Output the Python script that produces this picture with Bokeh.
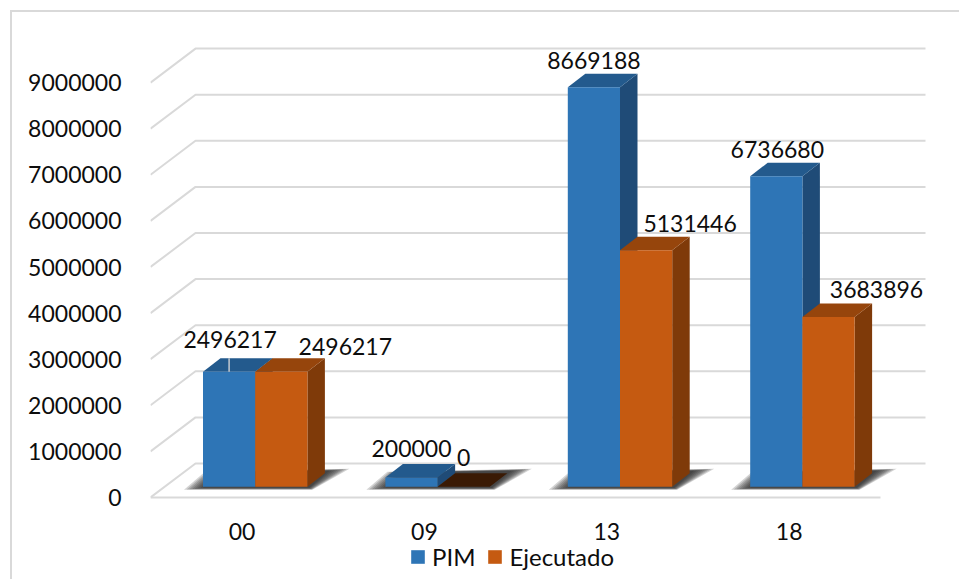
from bokeh.plotting import figure
from bokeh.models import (FixedTicker, NumeralTickFormatter, Legend, LegendItem, ColumnDataSource)
from bokeh.core.properties import value
from bokeh.embed import file_html
from bokeh.resources import INLINE

# ---- data ----
categories = ["00", "09", "13", "18"]
pim = [2496217, 200000, 8669188, 6736680]
ejecutado = [2496217, 0, 5131446, 3683896]
y_ticks = [0, 1000000, 2000000, 3000000, 4000000, 5000000, 6000000, 7000000, 8000000, 9000000]
series_names = ["PIM", "Ejecutado"]

# ---- styling / label placement (pixel offsets from bar top centre) ----
pim_label_dx = [1, 0, 0, 1]
pim_label_dy = [-32, -29, -27, -27]
eje_label_dx = [64, 0, 44, 48]
eje_label_dy = [-25, -29, -27, -27]

FONT = "Lato"
FS = "23px"
TEXT = "#0d0d0d"
GRID = "#d9d9d9"
BLUE = ("#2e75b6", "#235a8d", "#1f4b77")
ORANGE = ("#c55a11", "#96450c", "#7f3a09")
ZERO_TOP = "#3a1a04"

PX_X = 182.4        # pixels per category
PX_Y = 46.1e-6      # pixels per unit value
F_W, F_H = 809, 567
F_ABOVE_ZERO = 485  # frame pixels above the value 0
X0 = -(241.5 - 150) / PX_X
FLOOR_DX, FLOOR_DY = 45 / PX_X, 34 / PX_Y
BAR_W = 52.2 / PX_X
GROUP_DX = 13.2 / PX_X
BASE = 10.7 / PX_Y
BAR_DX, BAR_DY = 17.5 / PX_X, 13.5 / PX_Y

p = figure(width=947, height=567, output_backend="svg", toolbar_location=None,
           x_range=(X0, X0 + F_W / PX_X),
           y_range=((F_ABOVE_ZERO - F_H) / PX_Y, F_ABOVE_ZERO / PX_Y),
           frame_width=F_W, frame_height=F_H,
           min_border_left=138, min_border_top=0, min_border_right=0, min_border_bottom=0,
           outline_line_color=None, background_fill_color="white", border_fill_color="white")
p.grid.visible = False
# chart border: left and top only
p.styles = {"margin-left": "10px", "margin-top": "10px",
            "border-left": f"2px solid {GRID}", "border-top": f"2px solid {GRID}"}

# axes
p.yaxis.ticker = FixedTicker(ticks=y_ticks)
p.yaxis.formatter = NumeralTickFormatter(format="0")
p.yaxis.major_label_standoff = 23
p.xaxis.ticker = FixedTicker(ticks=list(range(len(categories))))
p.xaxis.major_label_overrides = {i: c for i, c in enumerate(categories)}
p.xaxis.major_label_standoff = 19
p.xaxis.fixed_location = 0
for ax in (p.xaxis[0], p.yaxis[0]):
    ax.axis_line_color = None
    ax.major_tick_line_color = None
    ax.minor_tick_line_color = None
    ax.major_label_text_font = FONT
    ax.major_label_text_font_size = FS
    ax.major_label_text_color = TEXT

# 3-D walls: side wall + back wall lines, and the floor's front edge
left_edge = X0
right_edge = X0 + 730 / PX_X
gx, gy = [], []
for t in y_ticks:
    gx.append([left_edge, left_edge + FLOOR_DX, right_edge + FLOOR_DX])
    gy.append([t, t + FLOOR_DY, t + FLOOR_DY])
gx.append([left_edge, right_edge])
gy.append([y_ticks[0], y_ticks[0]])
p.multi_line(gx, gy, line_color=GRID, line_width=2)

# soft contact shadows
n = len(categories)
layers = 8
for i in range(n):
    L = i + GROUP_DX - BAR_W
    R = i + GROUP_DX + BAR_W
    for k in range(layers):
        t = k / (layers - 1)
        fl = L + (-19 + 19 * t) / PX_X
        bl = L + (2 + 13 * t) / PX_X
        br = R + (42 - 20 * t) / PX_X
        fr = R + (5 - 3 * t) / PX_X
        yf = BASE + (-3 + 2 * t) / PX_Y
        yb = BASE + (15 - 1 * t) / PX_Y
        yb2 = BASE + (18 - 2 * t) / PX_Y
        p.patch([fl, bl, br, fr], [yf, yb, yb2, yf], fill_color="#222222", fill_alpha=0.2, line_color=None)

# 3-D bars, painted from back-left to front-right
front_renderers = {}
for s, (vals, cols, sgn) in enumerate(((pim, BLUE, -1), (ejecutado, ORANGE, 1))):
    left = [i + GROUP_DX + (0 if sgn > 0 else -BAR_W) for i in range(n)]
    right = [l + BAR_W for l in left]
    top = [v + BASE for v in vals]
    bottom = [BASE] * n
    side_x = [[r, r + BAR_DX, r + BAR_DX, r] for r in right]
    side_y = [[BASE, BASE + BAR_DY, t + BAR_DY, t] for t in top]
    top_x = [[l, l + BAR_DX, r + BAR_DX, r] for l, r in zip(left, right)]
    top_y = [[t, t + BAR_DY, t + BAR_DY, t] for t in top]
    top_c = [ZERO_TOP if v == 0 else cols[1] for v in vals]
    keep = [i for i, v in enumerate(vals) if v > 0]
    p.patches([side_x[i] for i in keep], [side_y[i] for i in keep], fill_color=cols[2], line_color=None)
    p.patches(top_x, top_y, fill_color=top_c, line_color=None)
    front_renderers[s] = p.quad(left=left, right=right, bottom=bottom, top=top, fill_color=cols[0], line_color=None)

# grey leader line of the first label
p.segment(x0=[0 + GROUP_DX - BAR_W / 2], x1=[0 + GROUP_DX - BAR_W / 2], y0=[pim[0] + BASE],
          y1=[pim[0] + BASE + BAR_DY], line_color="#c4c9cf", line_width=1.5)

# data labels
for vals, dxs, dys, shift in ((pim, pim_label_dx, pim_label_dy, -BAR_W / 2), (ejecutado, eje_label_dx, eje_label_dy, BAR_W / 2)):
    src = ColumnDataSource(dict(x=[i + GROUP_DX + shift for i in range(n)], y=[v + BASE for v in vals],
                                t=[str(v) for v in vals], dx=dxs, dy=dys))
    p.text(x="x", y="y", text="t", x_offset="dx", y_offset="dy", source=src, text_align="center",
           text_baseline="middle", text_font=value(FONT), text_font_size=value(FS), text_color=TEXT)

legend = Legend(items=[LegendItem(label=series_names[i], renderers=[front_renderers[i]]) for i in range(2)],
                orientation="horizontal", location=(259, 8), border_line_color=None, background_fill_alpha=0,
                label_text_font=FONT, label_text_font_size="24px", label_text_color=TEXT,
                glyph_width=17, glyph_height=17, label_standoff=6, spacing=11, padding=0, margin=0)
p.add_layout(legend, "center")

open("out.html", "w").write(file_html(p, INLINE))
